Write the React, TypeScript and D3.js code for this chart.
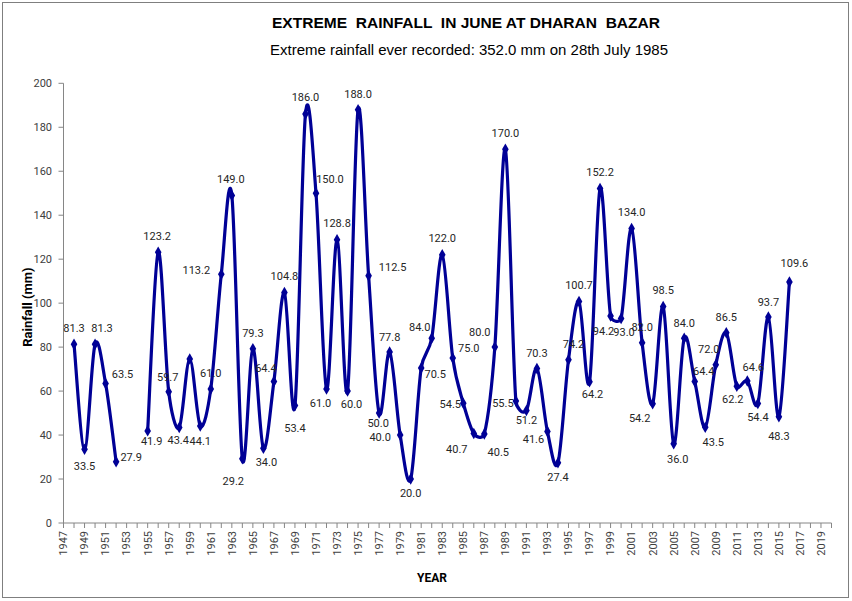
import React from "react";
import * as d3 from "d3";

const years: number[] = [
  1948, 1949, 1950, 1951, 1952, 1953, 1954, 1955, 1956, 1957, 1958, 1959, 1960, 1961, 1962, 1963,
  1964, 1965, 1966, 1967, 1968, 1969, 1970, 1971, 1972, 1973, 1974, 1975, 1976, 1977, 1978, 1979,
  1980, 1981, 1982, 1983, 1984, 1985, 1986, 1987, 1988, 1989, 1990, 1991, 1992, 1993, 1994, 1995,
  1996, 1997, 1998, 1999, 2000, 2001, 2002, 2003, 2004, 2005, 2006, 2007, 2008, 2009, 2010, 2011,
  2012, 2013, 2014, 2015, 2016,
];

const rainfall: (number | null)[] = [
  81.3, 33.5, 81.3, 63.5, 27.9, null, null, 41.9, 123.2, 59.7, 43.4, 74.6, 44.1, 61.0, 113.2, 149.0,
  29.2, 79.3, 34.0, 64.4, 104.8, 53.4, 186.0, 150.0, 61.0, 128.8, 60.0, 188.0, 112.5, 50.0, 77.8, 40.0,
  20.0, 70.5, 84.0, 122.0, 75.0, 54.5, 40.7, 40.5, 80.0, 170.0, 55.5, 51.2, 70.3, 41.6, 27.4, 74.2,
  100.7, 64.2, 152.2, 94.2, 93.0, 134.0, 82.0, 54.2, 98.5, 36.0, 84.0, 64.4, 43.5, 72.0, 86.5, 62.2,
  64.6, 54.4, 93.7, 48.3, 109.6,
];

// whether a value label is shown (the 1959 label is not visible in the original)
const showLabel: boolean[] = rainfall.map((v, i) => v !== null && years[i] !== 1959);

// label nudges relative to the point (dx, dy of label centre)
const labelNudge: [number, number][] = [
  [0, -16], [0, 17], [7, -16], [17, -9], [15, -5], [0, 0], [0, 0], [4, 10], [-1, -16], [-1, -15],
  [-1, 13], [0, -16], [0, 15], [0, -16], [-25, -4], [-1, -16],
  [-9, 22], [0, -16], [3, 14], [-8, -13], [0, -16], [0, 23], [0, -17], [14, -14], [-6, 14], [0, -17],
  [4, 13], [0, -16], [24, -9], [-1, 10], [0, -15], [-20, 2],
  [0, 14], [14, 6], [-12, -11], [0, -17], [16, -10], [-13, 1], [-17, 16], [14, 18], [-15, -15], [0, -16],
  [-13, 2], [0, 10], [0, -15], [-14, 8], [0, 14], [5, -16],
  [0, -16], [3, 12], [0, -16], [-7, 15], [3, 14], [0, -16], [0, -16], [-13, 14], [0, -16], [4, 15],
  [0, -15], [9, -10], [8, 15], [-7, -16], [0, -16], [-4, 13],
  [6, -14], [0, 14], [0, -15], [0, 19], [5, -19],
];

const axisYears: number[] = d3.range(1947, 2021);
const yTicks: number[] = [0, 20, 40, 60, 80, 100, 120, 140, 160, 180, 200];

const title = "EXTREME  RAINFALL  IN JUNE AT DHARAN  BAZAR";
const subtitle = "Extreme rainfall ever recorded: 352.0 mm on 28th July 1985";
const yTitle = "Rainfall (mm)";
const xTitle = "YEAR";

const W = 852;
const H = 601;
const left = 63.5;
const right = 831.5;
const top = 83.3;
const bottom = 523;

const LINE = "#000096";
const AXIS = "#868686";
const TXT = "#404040";
const FONT = "Roboto, 'Noto Sans', 'Liberation Sans', sans-serif";
const NARROW = "'Liberation Sans Narrow', 'Arial Narrow', 'Liberation Sans', sans-serif";

type P = [number, number];

// Excel-like smoothed line: Bezier with 1/6 tangents, clamped to half the segment length
function excelSmooth(run: P[]): string {
  if (run.length === 0) return "";
  const path = d3.path();
  path.moveTo(run[0][0], run[0][1]);
  const dist = (a: P, b: P) => Math.hypot(b[0] - a[0], b[1] - a[1]);
  for (let i = 0; i < run.length - 1; i++) {
    const p0 = run[Math.max(0, i - 1)];
    const p1 = run[i];
    const p2 = run[i + 1];
    const p3 = run[Math.min(run.length - 1, i + 2)];
    const d12 = dist(p1, p2);
    const d02 = dist(p0, p2);
    const d13 = dist(p1, p3);
    let f1 = 1 / 6;
    let f2 = 1 / 6;
    if (d02 / 6 > d12 / 2 && d02 > 0) f1 = d12 / 2 / d02;
    if (d13 / 6 > d12 / 2 && d13 > 0) f2 = d12 / 2 / d13;
    const c1: P = [p1[0] + (p2[0] - p0[0]) * f1, p1[1] + (p2[1] - p0[1]) * f1];
    const c2: P = [p2[0] - (p3[0] - p1[0]) * f2, p2[1] - (p3[1] - p1[1]) * f2];
    path.bezierCurveTo(c1[0], c1[1], c2[0], c2[1], p2[0], p2[1]);
  }
  return path.toString();
}

export default function App() {
  const x = d3.scalePoint<number>().domain(axisYears).range([left, right]);
  const y = d3.scaleLinear().domain([0, 200]).range([bottom, top]);

  const pts = years.map((yr, i) => ({ yr, v: rainfall[i], i }));

  // split into runs at gaps
  const runs: P[][] = [];
  let cur: P[] = [];
  pts.forEach((p) => {
    if (p.v === null) {
      if (cur.length) runs.push(cur);
      cur = [];
    } else {
      cur.push([x(p.yr) as number, y(p.v)]);
    }
  });
  if (cur.length) runs.push(cur);
  const lineD = runs.map(excelSmooth).join(" ");

  const diamond = d3.symbol().type(d3.symbolDiamond).size(38)() as string;

  return (
    <svg
      width={W}
      height={H}
      style={{ position: "absolute", left: 0, top: 0, background: "#fff" }}
    >
      <rect x={0} y={0} width={W} height={H} fill="#fff" />
      <rect x={2.5} y={2.5} width={846} height={595} fill="none" stroke="#7f7f7f" strokeWidth={1} />

      <text
        x={466}
        y={28}
        textAnchor="middle"
        fontFamily={NARROW}
        fontWeight="bold"
        fontSize={15}
        fill="#000"
        textLength={388}
        lengthAdjust="spacingAndGlyphs"
        style={{ whiteSpace: "pre" }}
      >
        {title}
      </text>
      <text
        x={469}
        y={55}
        textAnchor="middle"
        fontFamily={NARROW}
        fontSize={14}
        fill="#000"
        textLength={398}
        lengthAdjust="spacingAndGlyphs"
      >
        {subtitle}
      </text>

      {/* Y axis */}
      <line x1={left} x2={left} y1={top} y2={bottom} stroke={AXIS} strokeWidth={1} />
      {yTicks.map((t) => (
        <g key={t}>
          <line x1={left - 5} x2={left} y1={y(t)} y2={y(t)} stroke={AXIS} />
          <text
            x={52}
            y={y(t)}
            dy="0.35em"
            textAnchor="end"
            fontFamily={FONT}
            fontSize={11}
            fill={TXT}
          >
            {t}
          </text>
        </g>
      ))}
      <text
        transform={`translate(27,${(top + bottom) / 2 + 4}) rotate(-90)`}
        textAnchor="middle"
        dy="0.35em"
        fontFamily={FONT}
        fontWeight="bold"
        fontSize={13}
        fill="#000"
      >
        {yTitle}
      </text>

      {/* X axis */}
      <line x1={left} x2={right} y1={bottom} y2={bottom} stroke={AXIS} strokeWidth={1} />
      {axisYears.map((yr) => (
        <line
          key={yr}
          x1={x(yr)}
          x2={x(yr)}
          y1={bottom}
          y2={bottom + 5}
          stroke={AXIS}
        />
      ))}
      {axisYears
        .filter((yr) => (yr - 1947) % 2 === 0)
        .map((yr) => (
          <text
            key={yr}
            transform={`translate(${x(yr)},${bottom + 8}) rotate(-90)`}
            textAnchor="end"
            dy="0.35em"
            fontFamily={FONT}
            fontSize={11}
            fill={TXT}
          >
            {yr}
          </text>
        ))}
      <text
        x={432}
        y={578}
        dy="0.35em"
        textAnchor="middle"
        fontFamily={FONT}
        fontWeight="bold"
        fontSize={12}
        fill="#000"
      >
        {xTitle}
      </text>

      {/* Series */}
      <path d={lineD} fill="none" stroke={LINE} strokeWidth={3.2} strokeLinejoin="round" />
      {pts
        .filter((p) => p.v !== null)
        .map((p) => (
          <path
            key={p.yr}
            d={diamond}
            transform={`translate(${x(p.yr)},${y(p.v as number)})`}
            fill={LINE}
          />
        ))}
      {pts
        .filter((p) => p.v !== null && showLabel[p.i])
        .map((p) => (
          <text
            key={p.yr}
            x={(x(p.yr) as number) + labelNudge[p.i][0]}
            y={y(p.v as number) + labelNudge[p.i][1]}
            dy="0.35em"
            textAnchor="middle"
            fontFamily={FONT}
            fontSize={11}
            fill="#262626"
          >
            {(p.v as number).toFixed(1)}
          </text>
        ))}
    </svg>
  );
}
